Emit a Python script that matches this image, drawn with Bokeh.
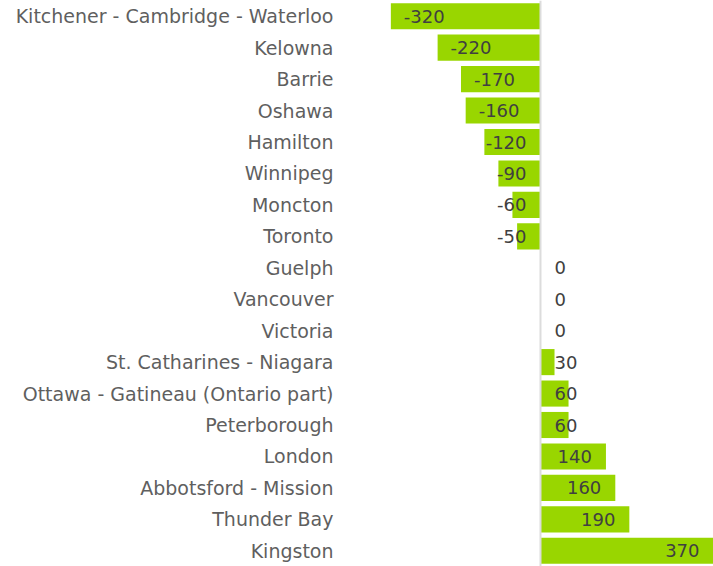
from bokeh.plotting import figure
from bokeh.models import FactorRange, Range1d, Span, ColumnDataSource
from bokeh.core.properties import value
from bokeh.embed import file_html
from bokeh.resources import INLINE

categories = ["Kitchener - Cambridge - Waterloo", "Kelowna", "Barrie", "Oshawa", "Hamilton",
              "Winnipeg", "Moncton", "Toronto", "Guelph", "Vancouver", "Victoria",
              "St. Catharines - Niagara", "Ottawa - Gatineau (Ontario part)", "Peterborough",
              "London", "Abbotsford - Mission", "Thunder Bay", "Kingston"]
values = [-320, -220, -170, -160, -120, -90, -60, -50, 0, 0, 0, 30, 60, 60, 140, 160, 190, 370]

FONT = "DejaVu Sans"
FS = "18px"
W, H = 713, 566
frame_left = 345
x_start, x_end = -417, 370
ppu = (W - frame_left) / (x_end - x_start)


def text_w(t):
    return sum(8 if c == "-" else 11.5 for c in t)


labels = [str(v) for v in values]
lx, la = [], []
for v, t in zip(values, labels):
    w = text_w(t)
    px = v * ppu
    if v < 0:
        left = px + 13
        if left + w > -14:
            lx.append(-14 / ppu); la.append("right")
        else:
            lx.append(left / ppu); la.append("left")
    else:
        right = px - 14
        if right - w < 14:
            lx.append(14 / ppu); la.append("left")
        else:
            lx.append(right / ppu); la.append("right")

src = ColumnDataSource(dict(cat=categories, val=values, lab=labels, lx=lx, la=la))

p = figure(width=W, height=H, output_backend="svg", toolbar_location=None,
           y_range=FactorRange(factors=list(reversed(categories)), range_padding=0),
           x_range=Range1d(x_start, x_end),
           min_border_left=frame_left, min_border_right=0, min_border_top=0, min_border_bottom=0)
p.outline_line_color = None
p.grid.visible = False
p.xaxis.visible = False
ax = p.yaxis[0]
ax.axis_line_color = None
ax.major_tick_line_color = None
ax.minor_tick_line_color = None
ax.major_tick_out = 0
ax.major_label_standoff = 12
ax.major_label_text_font = FONT
ax.major_label_text_font_size = "19px"
ax.major_label_text_color = "#5f5f5f"

p.hbar(y="cat", left=0, right="val", height=0.83, source=src,
       fill_color="#99d600", line_color=None)
p.add_layout(Span(location=0, dimension="height", line_color="#dcdcdc", line_width=2))
p.text(x="lx", y="cat", text="lab", source=src, text_align="la", text_baseline="middle",
       text_font=value(FONT), text_font_size=FS, text_color="#404040")

open("out.html", "w").write(file_html(p, INLINE))
